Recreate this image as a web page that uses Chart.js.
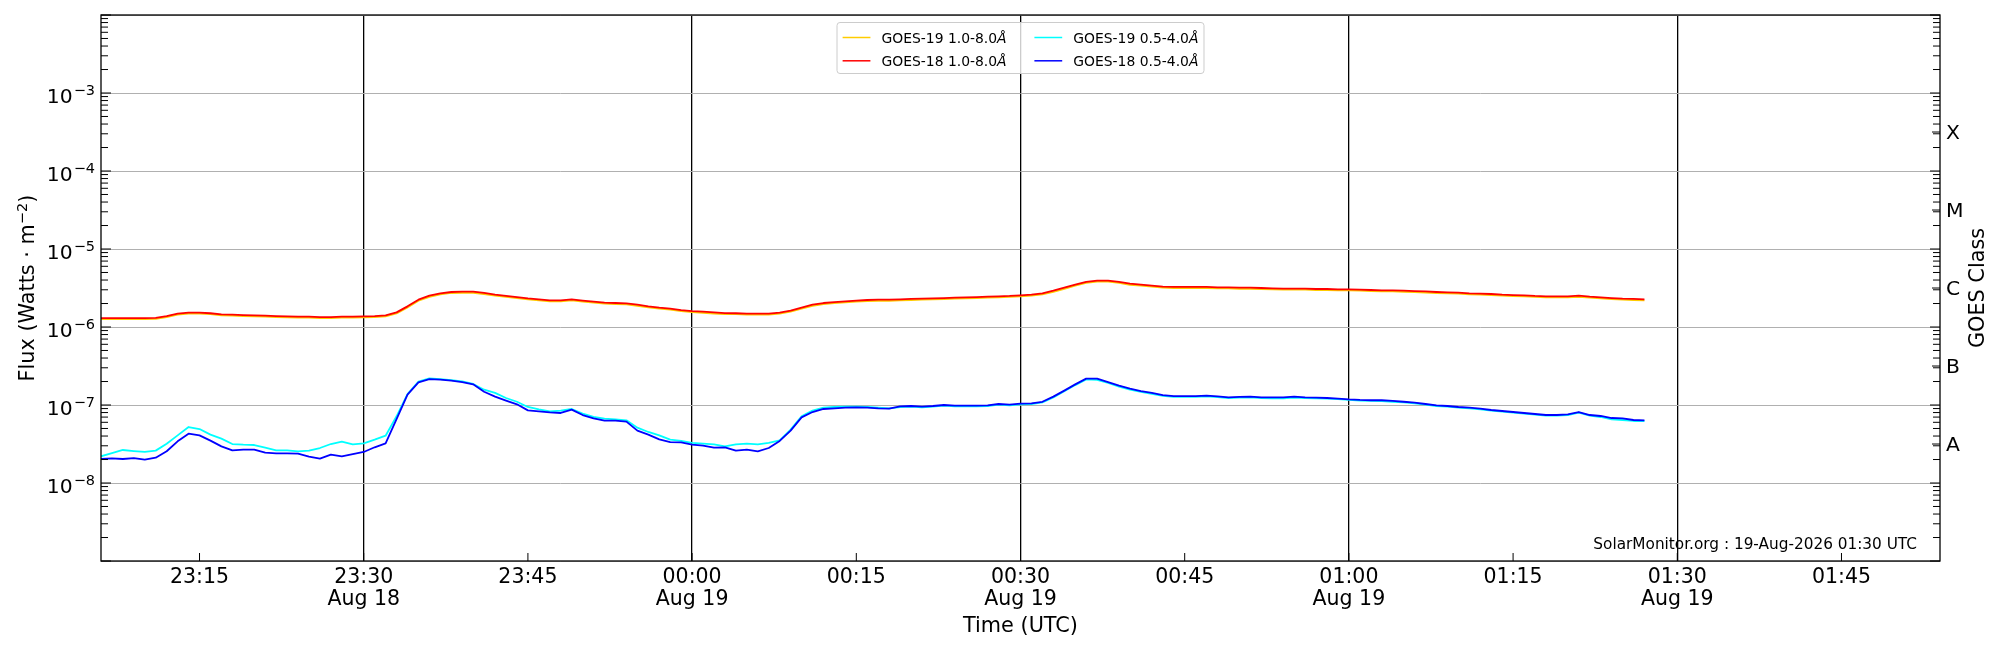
<!DOCTYPE html>
<html>
<head>
<meta charset="utf-8">
<title>GOES X-ray flux</title>
<script src="https://cdn.jsdelivr.net/npm/chart.js@4.4.1/dist/chart.umd.min.js"></script>
<style>
  html, body { margin: 0; padding: 0; background: #fff; }
  #wrap { width: 2000px; height: 650px; }
</style>
</head>
<body>
<div id="wrap"><canvas id="goes-chart"></canvas></div>
<script>
// one sample per minute, first at 23:06 UTC Aug 18 (minutes counted from 00:00 Aug 19)
const firstSampleMinute = -54;

// 1.0-8.0 A channel, in units of 1e-6 W m^-2
const goes19Long = [
  1.26,1.26,1.26,1.26,1.26,1.27,1.34,1.44,1.48,1.48,
  1.46,1.41,1.40,1.38,1.37,1.36,1.34,1.33,1.32,1.32,
  1.30,1.30,1.32,1.32,1.33,1.34,1.37,1.49,1.78,2.17,
  2.44,2.62,2.73,2.75,2.75,2.65,2.52,2.43,2.35,2.26,
  2.19,2.13,2.13,2.19,2.11,2.05,1.99,1.97,1.95,1.87,
  1.78,1.72,1.67,1.60,1.55,1.52,1.49,1.46,1.46,1.44,
  1.44,1.44,1.48,1.57,1.72,1.87,1.97,2.03,2.07,2.11,
  2.15,2.17,2.17,2.19,2.22,2.24,2.26,2.28,2.31,2.33,
  2.35,2.38,2.40,2.43,2.47,2.52,2.62,2.83,3.09,3.39,
  3.67,3.81,3.81,3.67,3.48,3.39,3.29,3.19,3.16,3.16,
  3.16,3.16,3.13,3.13,3.09,3.09,3.07,3.04,3.01,3.01,
  3.01,2.98,2.98,2.95,2.95,2.92,2.89,2.86,2.86,2.83,
  2.80,2.77,2.73,2.70,2.68,2.62,2.60,2.57,2.52,2.49,
  2.47,2.43,2.40,2.40,2.40,2.44,2.38,2.33,2.28,2.24,
  2.22,2.19
];
const goes18Long = [
  1.30,1.30,1.30,1.30,1.30,1.31,1.38,1.48,1.53,1.53,
  1.50,1.45,1.44,1.42,1.41,1.40,1.38,1.37,1.36,1.36,
  1.34,1.34,1.36,1.36,1.37,1.38,1.41,1.54,1.84,2.24,
  2.52,2.70,2.81,2.84,2.84,2.73,2.60,2.50,2.42,2.33,
  2.26,2.20,2.20,2.26,2.18,2.11,2.05,2.03,2.01,1.93,
  1.84,1.77,1.72,1.65,1.60,1.57,1.54,1.51,1.50,1.48,
  1.48,1.48,1.53,1.62,1.77,1.93,2.03,2.09,2.13,2.18,
  2.22,2.24,2.24,2.26,2.29,2.31,2.33,2.35,2.38,2.40,
  2.42,2.45,2.47,2.50,2.55,2.60,2.70,2.92,3.19,3.49,
  3.78,3.93,3.93,3.78,3.59,3.49,3.39,3.29,3.26,3.26,
  3.26,3.26,3.23,3.23,3.19,3.19,3.16,3.13,3.10,3.10,
  3.10,3.07,3.07,3.04,3.04,3.01,2.98,2.95,2.95,2.92,
  2.89,2.86,2.81,2.78,2.76,2.70,2.68,2.65,2.60,2.57,
  2.55,2.50,2.47,2.47,2.47,2.52,2.45,2.40,2.35,2.31,
  2.29,2.26
];

// 0.5-4.0 A channel, in units of 1e-8 W m^-2
const goes19Short = [
  2.20,2.42,2.65,2.57,2.50,2.60,3.19,4.08,5.22,4.92,
  4.17,3.70,3.16,3.10,3.07,2.84,2.62,2.62,2.55,2.60,
  2.81,3.16,3.39,3.13,3.22,3.59,4.04,7.16,13.8,19.9,
  22.0,21.5,20.9,20.1,18.6,15.7,14.3,12.3,11.0,9.43,
  8.80,8.30,8.46,8.89,7.74,7.02,6.68,6.55,6.36,5.12,
  4.51,4.08,3.59,3.46,3.26,3.19,3.13,2.95,3.13,3.19,
  3.13,3.26,3.52,4.83,7.16,8.46,9.24,9.43,9.52,9.52,
  9.43,9.24,9.06,9.42,9.52,9.33,9.52,9.81,9.61,9.61,
  9.61,9.71,10.1,9.90,10.2,10.3,10.8,12.5,15.0,18.0,
  21.3,21.0,19.2,17.2,15.8,14.7,13.9,13.1,12.7,12.7,
  12.7,12.9,12.6,12.3,12.4,12.5,12.3,12.2,12.2,12.4,
  12.3,12.2,12.1,11.9,11.6,11.4,11.3,11.2,11.0,10.8,
  10.5,10.1,9.71,9.52,9.24,9.06,8.80,8.46,8.22,7.97,
  7.74,7.52,7.30,7.30,7.44,8.00,7.30,7.02,6.55,6.42,
  6.24,6.24
];
const goes18Short = [
  2.03,2.07,2.03,2.09,1.99,2.11,2.55,3.42,4.29,4.08,
  3.49,2.95,2.62,2.68,2.68,2.45,2.40,2.40,2.38,2.18,
  2.05,2.31,2.20,2.35,2.50,2.87,3.22,6.61,13.6,19.5,
  21.5,21.1,20.5,19.7,18.4,14.8,12.8,11.4,10.2,8.54,
  8.30,8.05,7.90,8.71,7.44,6.75,6.30,6.30,6.12,4.69,
  4.17,3.63,3.35,3.32,3.10,3.01,2.84,2.87,2.60,2.68,
  2.55,2.81,3.46,4.69,6.95,8.13,8.89,9.06,9.24,9.33,
  9.24,9.06,8.98,9.61,9.71,9.52,9.71,10.0,9.81,9.81,
  9.81,9.90,10.3,10.1,10.4,10.5,11.0,12.8,15.3,18.4,
  21.8,21.8,19.7,17.7,16.2,15.1,14.3,13.4,13.0,13.0,
  13.0,13.2,12.9,12.5,12.7,12.8,12.5,12.5,12.5,12.8,
  12.5,12.4,12.3,12.1,11.8,11.6,11.5,11.5,11.3,11.0,
  10.7,10.3,9.90,9.71,9.43,9.24,8.98,8.63,8.38,8.13,
  7.90,7.67,7.44,7.44,7.59,8.13,7.44,7.23,6.81,6.75,
  6.42,6.36
];

const timeTickMinutes = [-45, -30, -15, 0, 15, 30, 45, 60, 75, 90, 105];
const timeTickLabels = ['23:15', '23:30', '23:45', '00:00', '00:15', '00:30', '00:45', '01:00', '01:15', '01:30', '01:45'];
const dateTickLabels = ['', 'Aug 18', '', 'Aug 19', '', 'Aug 19', '', 'Aug 19', '', 'Aug 19', ''];

const fluxLabelPowers = [-8, -7, -6, -5, -4, -3];
const goesClassLabels = ['A', 'B', 'C', 'M', 'X'];
const goesClassLevels = [3.16e-8, 3.16e-7, 3.16e-6, 3.16e-5, 3.16e-4];

const watermark = 'SolarMonitor.org : 19-Aug-2026 01:30 UTC';

const FONT = '"DejaVu Sans", "Liberation Sans", sans-serif';
const font = (size, style) => (style ? style + ' ' : '') + size + 'px ' + FONT;

const toPoints = (values, unit) => values.map((v, i) => ({ x: firstSampleMinute + i, y: v * unit }));

const isDecade = v => Math.abs(Math.log10(v) - Math.round(Math.log10(v))) < 1e-6;

const line = (ctx, x1, y1, x2, y2) => {
    ctx.beginPath();
    ctx.moveTo(x1, y1);
    ctx.lineTo(x2, y2);
    ctx.stroke();
};

// "10" with a raised exponent, right aligned at x
const drawPower = (ctx, base, exp, right, y) => {
    ctx.font = font(20.3);
    const wb = ctx.measureText(base).width;
    ctx.font = font(14.5);
    const we = ctx.measureText(exp).width;
    const left = right - wb - we - 1;
    ctx.textAlign = 'left';
    ctx.textBaseline = 'alphabetic';
    ctx.font = font(20.3);
    ctx.fillText(base, left, y + 10);
    ctx.font = font(14.5);
    ctx.fillText(exp, left + wb + 1, y + 1.5);
};

const axisDecorations = {
    id: 'axisDecorations',
    afterDraw(chart) {
        const { ctx, chartArea: a, scales: { x, y } } = chart;
        ctx.save();
        ctx.fillStyle = '#000';
        ctx.strokeStyle = '#000';

        // inward tick marks
        ctx.lineWidth = 1;
        y.ticks.forEach(t => {
            const py = y.getPixelForValue(t.value);
            const len = isDecade(t.value) ? 10 : 7;
            line(ctx, a.left, py, a.left + len, py);
            line(ctx, a.right, py, a.right - len, py);
        });
        goesClassLevels.forEach(v => {
            const py = y.getPixelForValue(v);
            line(ctx, a.right, py, a.right - 8, py);
        });
        x.ticks.forEach(t => {
            const px = x.getPixelForValue(t.value);
            line(ctx, px, a.bottom, px, a.bottom - 8);
        });

        // frame
        ctx.lineWidth = 1.3;
        ctx.strokeRect(a.left, a.top, a.right - a.left, a.bottom - a.top);

        // flux tick labels
        fluxLabelPowers.forEach(p => {
            drawPower(ctx, '10', '\u2212' + Math.abs(p), a.left - 6, y.getPixelForValue(Math.pow(10, p)));
        });

        // time tick labels
        ctx.textAlign = 'center';
        ctx.textBaseline = 'alphabetic';
        ctx.font = font(20.5);
        timeTickMinutes.forEach((m, i) => {
            const px = x.getPixelForValue(m);
            ctx.fillText(timeTickLabels[i], px, a.bottom + 21.5);
            if (dateTickLabels[i]) ctx.fillText(dateTickLabels[i], px, a.bottom + 44);
        });
        ctx.font = font(20.8);
        ctx.fillText('Time (UTC)', (a.left + a.right) / 2, a.bottom + 70.5);

        // GOES class labels on the right
        ctx.textAlign = 'left';
        ctx.font = font(20.3);
        goesClassLevels.forEach((v, i) => {
            ctx.fillText(goesClassLabels[i], a.right + 6, y.getPixelForValue(v) + 7.4);
        });

        const midY = (a.top + a.bottom) / 2;
        ctx.save();
        ctx.translate(a.right + 43.5, midY);
        ctx.rotate(-Math.PI / 2);
        ctx.textAlign = 'center';
        ctx.font = font(20.8);
        ctx.fillText('GOES Class', 0, 0);
        ctx.restore();

        // flux axis title with m^-2
        ctx.save();
        ctx.translate(a.left - 67, midY);
        ctx.rotate(-Math.PI / 2);
        ctx.textAlign = 'left';
        const parts = [['Flux (Watts \u00b7 m', 20.8, 0], ['\u22122', 14.6, -7.5], [')', 20.8, 0]];
        let total = 0;
        parts.forEach(p => { ctx.font = font(p[1]); p.push(ctx.measureText(p[0]).width); total += p[3]; });
        let cx = -total / 2;
        parts.forEach(p => {
            ctx.font = font(p[1]);
            ctx.fillText(p[0], cx, p[2]);
            cx += p[3];
        });
        ctx.restore();

        // watermark
        ctx.textAlign = 'right';
        ctx.font = font(15.3);
        ctx.fillText(watermark, a.right - 23, a.bottom - 12);

        // legend, two columns
        const items = chart.data.datasets.slice().sort((p, q) => (p.legendCol - q.legendCol) || (p.legendRow - q.legendRow));
        const textW = items.map(d => {
            const main = d.label.slice(0, -1);
            ctx.font = font(13.9);
            const w1 = ctx.measureText(main).width;
            ctx.font = font(13.9, 'oblique');
            return w1 + ctx.measureText(d.label.slice(-1)).width;
        });
        const colW = [0, 1].map(c => Math.max(...items.map((d, i) => d.legendCol === c ? textW[i] : 0)));
        const pad = 5.6, handle = 27.8, gap = 11.1, colGap = 27.8;
        const boxW = pad + handle + gap + colW[0] + colGap + handle + gap + colW[1] + pad;
        const boxH = 51;
        const bx = (a.left + a.right) / 2 - boxW / 2;
        const by = a.top + 7.5;
        ctx.beginPath();
        ctx.roundRect(bx, by, boxW, boxH, 3);
        ctx.fillStyle = 'rgba(255,255,255,0.8)';
        ctx.fill();
        ctx.strokeStyle = '#cccccc';
        ctx.lineWidth = 1;
        ctx.stroke();
        items.forEach(d => {
            const colX = bx + pad + (d.legendCol === 0 ? 0 : handle + gap + colW[0] + colGap);
            const rowY = by + 15 + d.legendRow * 23.3;
            ctx.strokeStyle = d.borderColor;
            ctx.lineWidth = 1.5;
            line(ctx, colX, rowY, colX + handle, rowY);
            ctx.fillStyle = '#000';
            ctx.textAlign = 'left';
            ctx.font = font(13.9);
            const main = d.label.slice(0, -1);
            ctx.fillText(main, colX + handle + gap, rowY + 5);
            const w1 = ctx.measureText(main).width;
            ctx.font = font(13.9, 'oblique');
            ctx.fillText(d.label.slice(-1), colX + handle + gap + w1, rowY + 5);
        });

        ctx.restore();
    }
};

const makeSet = (label, values, unit, color, col, row) => ({
    label: label,
    data: toPoints(values, unit),
    borderColor: color,
    backgroundColor: color,
    borderWidth: 1.8,
    borderJoinStyle: 'round',
    pointRadius: 0,
    tension: 0,
    fill: false,
    legendCol: col,
    legendRow: row
});

new Chart(document.getElementById('goes-chart'), {
    type: 'line',
    data: {
        // first dataset is painted last (on top)
        datasets: [
            makeSet('GOES-18 0.5-4.0\u00c5', goes18Short, 1e-8, '#0000ff', 1, 1),
            makeSet('GOES-19 0.5-4.0\u00c5', goes19Short, 1e-8, '#00ffff', 1, 0),
            makeSet('GOES-18 1.0-8.0\u00c5', goes18Long, 1e-6, '#ff0000', 0, 1),
            makeSet('GOES-19 1.0-8.0\u00c5', goes19Long, 1e-6, '#ffcc00', 0, 0)
        ]
    },
    options: {
        responsive: true,
        maintainAspectRatio: false,
        animation: false,
        events: [],
        layout: { padding: { left: 101, right: 60, top: 15, bottom: 89 } },
        plugins: {
            legend: { display: false },
            tooltip: { enabled: false }
        },
        scales: {
            x: {
                type: 'linear',
                min: -54,
                max: 114,
                afterBuildTicks: axis => { axis.ticks = timeTickMinutes.map(v => ({ value: v })); },
                ticks: { display: false },
                border: { display: false },
                grid: {
                    drawTicks: false,
                    lineWidth: 1.3,
                    color: c => (c.tick && c.tick.value % 30 === 0) ? '#000000' : 'rgba(0,0,0,0)'
                }
            },
            y: {
                type: 'logarithmic',
                min: 1e-9,
                max: 1e-2,
                afterBuildTicks: axis => {
                    const ticks = [];
                    for (let p = -9; p < -2; p++) {
                        for (let s = 1; s <= 9; s++) ticks.push({ value: s * Math.pow(10, p), major: s === 1 });
                    }
                    ticks.push({ value: 1e-2, major: true });
                    axis.ticks = ticks;
                },
                ticks: { display: false },
                border: { display: false },
                grid: {
                    drawTicks: false,
                    lineWidth: 1,
                    color: c => (c.tick && isDecade(c.tick.value)) ? '#b0b0b0' : 'rgba(0,0,0,0)'
                }
            }
        }
    },
    plugins: [axisDecorations]
});
</script>
</body>
</html>
